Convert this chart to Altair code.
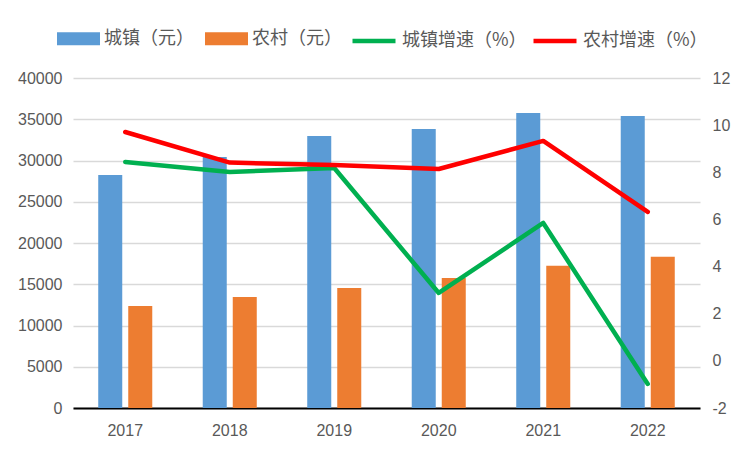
import altair as alt
import pandas as pd

years = ["2017", "2018", "2019", "2020", "2021", "2022"]
urban_income = [28250, 30420, 32970, 33820, 35760, 35390]
rural_income = [12360, 13450, 14550, 15760, 17250, 18340]
urban_growth = [8.44, 8.01, 8.18, 2.88, 5.85, -0.98]
rural_growth = [9.71, 8.41, 8.31, 8.14, 9.33, 6.32]
bar_series = ["城镇（元）", "农村（元）"]
line_series = ["城镇增速（%）", "农村增速（%）"]
left_ticks = [0, 5000, 10000, 15000, 20000, 25000, 30000, 35000, 40000]
right_ticks = [-2, 0, 2, 4, 6, 8, 10, 12]

bars_df = pd.DataFrame(
    [{"year": y, "series": bar_series[0], "value": v} for y, v in zip(years, urban_income)]
    + [{"year": y, "series": bar_series[1], "value": v} for y, v in zip(years, rural_income)]
)
green_df = pd.DataFrame({"year": years, "series": line_series[0], "value": urban_growth})
red_df = pd.DataFrame({"year": years, "series": line_series[1], "value": rural_growth})

NUM_FONT = "Liberation Sans"
CJK_FONT = "Noto Sans CJK SC"
GRAY = "#595959"

x_enc = alt.X(
    "year:N",
    sort=years,
    title=None,
    scale=alt.Scale(paddingInner=0.483, paddingOuter=0.2415),
    axis=alt.Axis(
        domainColor="black", domainWidth=2, ticks=False, labelPadding=14,
        labelFontSize=16, labelFont=NUM_FONT, labelColor=GRAY, labelAngle=0, grid=False,
    ),
)

bars = alt.Chart(bars_df).mark_bar().encode(
    x=x_enc,
    xOffset=alt.XOffset("series:N", sort=bar_series,
                        scale=alt.Scale(paddingInner=0.2, paddingOuter=0)),
    y=alt.Y(
        "value:Q",
        title=None,
        scale=alt.Scale(domain=[0, 40000], nice=False),
        axis=alt.Axis(
            orient="left", values=left_ticks, format="d", ticks=False, domain=False,
            labelPadding=11, labelFontSize=16, labelFont=NUM_FONT, labelColor=GRAY,
            grid=True, gridColor="#d9d9d9", gridWidth=1.6,
        ),
    ),
    fill=alt.Fill(
        "series:N",
        scale=alt.Scale(domain=bar_series, range=["#5b9bd5", "#ed7d31"]),
        legend=alt.Legend(
            orient="none", legendX=-16, legendY=-61, direction="horizontal", title=None,
            symbolType="M-1,-0.3H1V0.3H-1Z", symbolSize=1849, symbolStrokeWidth=0,
            labelFontSize=18, labelFont=CJK_FONT, labelColor=GRAY,
            columnPadding=11, labelOffset=4, padding=0,
        ),
    ),
)

y_right = alt.Y(
    "value:Q",
    title=None,
    scale=alt.Scale(domain=[-2, 12], nice=False),
    axis=alt.Axis(
        orient="right", values=right_ticks, ticks=False, domain=False, grid=False,
        labelExpr="'' + datum.value",
        labelPadding=12, labelFontSize=16, labelFont=NUM_FONT, labelColor=GRAY,
    ),
)
stroke_enc = alt.Stroke(
    "series:N",
    scale=alt.Scale(domain=line_series, range=["#00b050", "#ff0000"]),
    legend=alt.Legend(
        orient="none", legendX=277, legendY=-61, direction="horizontal", title=None,
        symbolType="stroke", symbolSize=1849, symbolStrokeWidth=4.5,
        labelFontSize=18, labelFont=CJK_FONT, labelColor=GRAY,
        columnPadding=-3, labelOffset=4, padding=0,
    ),
)

green = alt.Chart(green_df).mark_line(strokeWidth=4.5, strokeJoin="round", strokeCap="round").encode(
    x=x_enc, y=y_right, stroke=stroke_enc
)
red = alt.Chart(red_df).mark_line(strokeWidth=4.5, strokeJoin="round", strokeCap="round").encode(
    x=x_enc, y=y_right, stroke=stroke_enc
)
lines = alt.layer(green, red)

chart = (
    alt.layer(bars, lines)
    .resolve_scale(y="independent")
    .properties(
        width=627, height=330,
        padding={"left": 65, "top": 70, "right": 36, "bottom": 36},
        autosize=alt.AutoSizeParams(type="none"),
        background="white",
    )
    .configure_view(stroke=None)
)

chart.save("out.html", embed_options={"renderer": "svg", "actions": False})
